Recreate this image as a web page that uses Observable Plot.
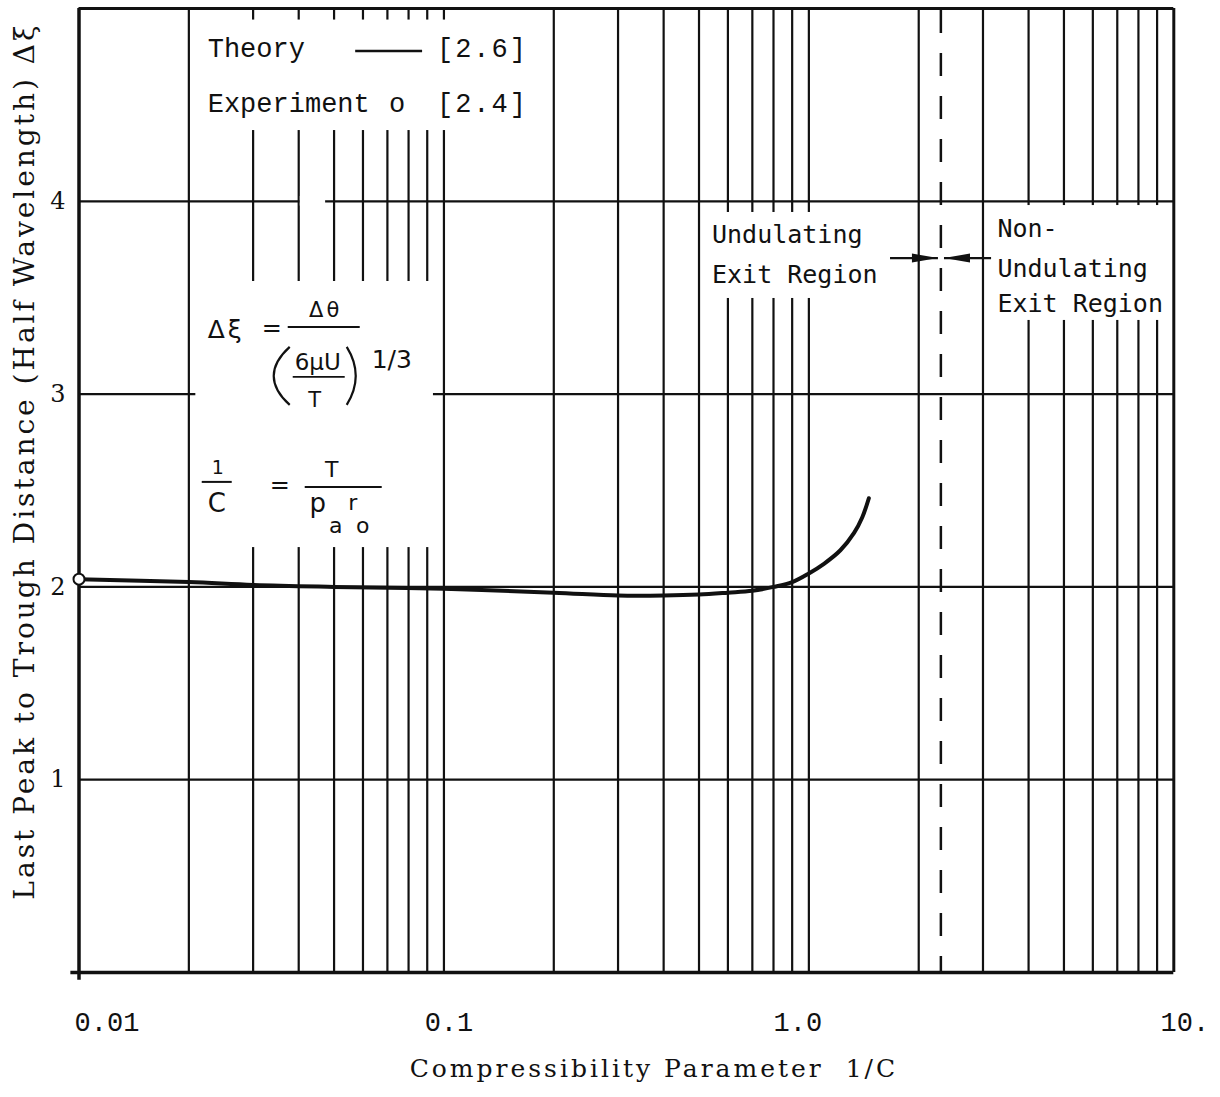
<!DOCTYPE html>
<html>
<head>
<meta charset="utf-8">
<script src="https://cdn.jsdelivr.net/npm/d3@7"></script>
<script src="https://cdn.jsdelivr.net/npm/@observablehq/plot@0.6"></script>
<style>
  html, body { margin: 0; padding: 0; background: #fff; }
  #chart svg { display: block; }
</style>
</head>
<body>
<div id="chart"></div>
<script>
// Theory [2.6]: last peak-to-trough distance Δξ against compressibility parameter 1/C
const theoryX = [0.01, 0.02, 0.03, 0.05, 0.1, 0.2, 0.3, 0.4, 0.5, 0.6, 0.7, 0.8, 0.9, 1.0, 1.1, 1.22, 1.33, 1.4, 1.46];
const theoryY = [2.04, 2.025, 2.01, 2.0, 1.99, 1.97, 1.955, 1.955, 1.96, 1.97, 1.98, 2.0, 2.025, 2.07, 2.12, 2.19, 2.28, 2.36, 2.46];

// Experiment [2.4]
const experimentX = [0.01];
const experimentY = [2.04];

// Boundary between the undulating and non-undulating exit regions
const boundaryX = [2.3];

// Log-paper grid lines and axis ticks
const gridX = [0.02, 0.03, 0.04, 0.05, 0.06, 0.07, 0.08, 0.09,
               0.1, 0.2, 0.3, 0.4, 0.5, 0.6, 0.7, 0.8, 0.9,
               1, 2, 3, 4, 5, 6, 7, 8, 9];
const gridY = [1, 2, 3, 4];
const xTicks = [0.01, 0.1, 1, 10];
const xTickLabels = ["0.01", "0.1", "1.0", "10."];
const yTicks = [1, 2, 3, 4];
const yTickLabels = ["1", "2", "3", "4"];

const theory = theoryX.map((x, i) => ({x, y: theoryY[i]}));
const experiment = experimentX.map((x, i) => ({x, y: experimentY[i]}));

const INK = "#111";
const MONO = "'Liberation Mono', monospace";
const SERIF = "'DejaVu Serif', serif";
const SANS = "'DejaVu Sans', sans-serif";
const SANSMONO = "'DejaVu Sans Mono', monospace";

// White panels that clear the grid behind the legend, the formulas and the region notes
const panels = [
  {x1: 0.0205, x2: 0.19,   y1: 4.367, y2: 4.94},
  {x1: 0.0209, x2: 0.0936, y1: 2.204, y2: 3.584},
  {x1: 0.521,  x2: 1.62,   y1: 3.496, y2: 3.942},
  {x1: 3.05,   x2: 9.67,   y1: 3.382, y2: 3.978},
  {x1: 0.0404, x2: 0.0474, y1: 3.975, y2: 4.025}
];

// horizontal nudges of the typed tick labels (px)
const tickShift = [28, 5, -11, 11];

// Legend, formulas, region notes, arrows and axis titles
function notes(index, {x, y}, values, {width, height, marginLeft, marginRight}) {
  const g = d3.create("svg:g").attr("fill", INK);
  const text = (px, py, str, font, size, anchor = "start", spacing = 0) =>
    g.append("text")
      .attr("x", px).attr("y", py)
      .attr("font-family", font).attr("font-size", size)
      .attr("text-anchor", anchor)
      .attr("letter-spacing", spacing)
      .text(str);
  const line = (x1, y1, x2, y2, w = 2) =>
    g.append("line")
      .attr("x1", x1).attr("y1", y1).attr("x2", x2).attr("y2", y2)
      .attr("stroke", INK).attr("stroke-width", w);

  // legend
  const lx = x(0.0226);
  text(lx, y(4.746), "Theory", MONO, 27);
  line(x(0.0573), y(4.777), x(0.0874), y(4.777), 2.5);
  text(x(0.096), y(4.746), "[2.6]", MONO, 27, "start", 2);
  text(lx, y(4.461), "Experiment", MONO, 27);
  text(x(0.0746), y(4.461), "o", MONO, 27, "middle");
  text(x(0.096), y(4.461), "[2.4]", MONO, 27, "start", 2);

  // formulas
  const ax = x(0.0226), ay = y(3.32);
  const eq = (dx, dy, str, size, anchor = "start", spacing = 0) =>
    text(ax + dx, ay + dy, str, SANS, size, anchor, spacing);
  const paren = (xEnd, xCtrl) =>
    g.append("path")
      .attr("d", `M${ax + xEnd},${ay + 15}Q${ax + xCtrl},${ay + 44} ${ax + xEnd},${ay + 73}`)
      .attr("fill", "none").attr("stroke", INK).attr("stroke-width", 2.2);

  eq(0, 6, "Δξ", 25, "start", 3);
  eq(54, 4, "=", 24);
  eq(118, -15, "Δθ", 21, "middle", 3);
  line(ax + 80, ay - 5, ax + 152, ay - 5, 2);
  paren(82, 50);
  eq(110, 38, "6μU", 23, "middle");
  line(ax + 85, ay + 45, ax + 137, ay + 45, 1.8);
  eq(107, 75, "T", 21, "middle");
  paren(139, 157);
  eq(164, 36, "1/3", 25);

  eq(10, 142, "1", 19, "middle");
  line(ax - 6, ay + 150, ax + 24, ay + 150, 2);
  eq(9, 180, "C", 26, "middle");
  eq(62, 161, "=", 24);
  eq(124, 145, "T", 22, "middle");
  line(ax + 97, ay + 155, ax + 174, ay + 155, 2);
  eq(110, 180, "p", 26, "middle");
  eq(128, 201, "a", 22, "middle");
  eq(145, 178, "r", 22, "middle");
  eq(155, 201, "o", 22, "middle");

  // region notes
  text(x(0.5445), y(3.781), "Undulating", SANSMONO, 25);
  text(x(0.5445), y(3.576), "Exit Region", SANSMONO, 25);
  text(x(3.296), y(3.814), "Non-", SANSMONO, 25);
  text(x(3.296), y(3.606), "Undulating", SANSMONO, 25);
  text(x(3.296), y(3.425), "Exit Region", SANSMONO, 25);

  // arrows pointing at the boundary
  const ay2 = y(3.703);
  const arrow = (from, tip, dir) => {
    line(x(from), ay2, x(tip), ay2, 2.2);
    const t = x(tip), b = t - dir * 26;
    g.append("path").attr("d", `M${t},${ay2}L${b},${ay2 - 4.5}L${b},${ay2 + 4.5}Z`).attr("fill", INK);
  };
  arrow(1.674, 2.265, 1);
  arrow(3.167, 2.353, -1);

  // axis titles
  const cx = (marginLeft + width - marginRight) / 2;
  text(cx + 28, height - 20, "Compressibility Parameter  1/C", SERIF, 25, "middle", 3)
    .attr("xml:space", "preserve");
  text(0, 0, "Last Peak to Trough Distance (Half Wavelength) Δξ", SERIF, 28, "middle", 3)
    .attr("transform", `translate(34,${y(2.65)}) rotate(-90)`);
  return g.node();
}

const chart = Plot.plot({
  width: 1220,
  height: 1097,
  marginTop: 8,
  marginBottom: 125,
  marginLeft: 78.5,
  marginRight: 46.7,
  x: {type: "log", domain: [0.01, 10], axis: null},
  y: {domain: [0, 5], axis: null},
  style: {background: "#fff", color: INK},
  marks: [
    // graph-paper grid
    Plot.ruleX(gridX, {y1: 0, y2: 5, stroke: INK, strokeWidth: 2.2}),
    Plot.ruleY(gridY, {x1: 0.01, x2: 10, stroke: INK, strokeWidth: 2.2}),
    Plot.rect(panels, {x1: "x1", x2: "x2", y1: "y1", y2: "y2", fill: "white"}),
    // frame
    Plot.ruleX([0.01], {y1: -0.04, y2: 5, stroke: INK, strokeWidth: 3.5}),
    Plot.ruleX([10], {y1: 0, y2: 5, stroke: INK, strokeWidth: 3}),
    Plot.ruleY([0], {x1: 0.0095, x2: 10, stroke: INK, strokeWidth: 3.5}),
    Plot.ruleY([5], {x1: 0.01, x2: 10, stroke: INK, strokeWidth: 3}),
    // exit-region boundary
    Plot.ruleX(boundaryX, {y1: 5, y2: 0, stroke: INK, strokeWidth: 2.5, strokeDasharray: "23,20", strokeDashoffset: -2}),
    // theory curve and experimental point
    Plot.line(theory, {x: "x", y: "y", curve: "catmull-rom", stroke: INK, strokeWidth: 4}),
    Plot.dot(experiment, {x: "x", y: "y", r: 5.5, fill: "white", stroke: INK, strokeWidth: 2}),
    // tick labels
    ...xTicks.map((t, i) => Plot.text([t], {
      x: d => d, y: () => 0, text: () => xTickLabels[i],
      dx: tickShift[i], dy: 50, fontSize: 27, fontFamily: MONO, fill: INK
    })),
    Plot.text(yTicks, {
      x: () => 0.01, y: d => d, text: (d, i) => yTickLabels[i],
      dx: -21, fontSize: 24, fontFamily: SERIF, fill: INK
    }),
    notes
  ]
});

document.getElementById("chart").append(chart);
</script>
</body>
</html>
